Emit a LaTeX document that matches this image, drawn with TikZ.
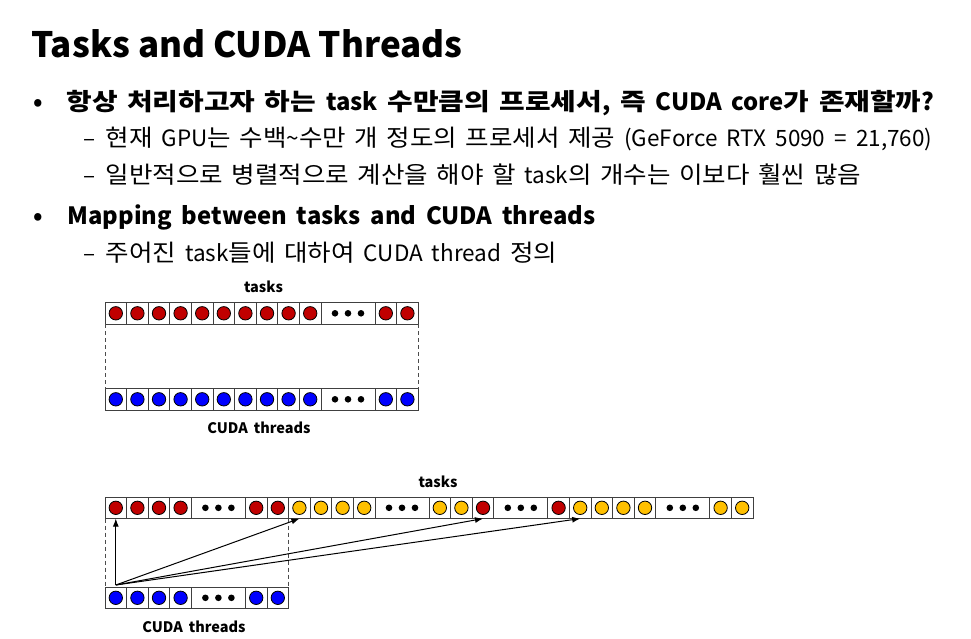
\documentclass[tikz,border=0pt]{standalone}
\usepackage{fontspec}
\setmainfont{Noto Sans CJK KR}[WordSpace=1.8]
\newfontfamily\plainfont{Noto Sans CJK KR}
\newfontfamily\hanA{Noto Sans CJK KR}[FakeStretch=1.17,WordSpace=1.5]
\newfontfamily\hanB{Noto Sans CJK KR}[Scale=1.044,FakeStretch=1.087,WordSpace=1.5]
\usetikzlibrary{arrows.meta}
\definecolor{taskred}{RGB}{192,0,0}
\definecolor{taskyellow}{RGB}{255,192,0}
\definecolor{threadblue}{RGB}{0,0,255}
\begin{document}
\begin{tikzpicture}[x=1pt,y=-1pt,
    cell/.style={draw=black!75,line width=1pt,minimum width=21.6pt,minimum height=21.6pt,
      inner sep=0pt,outer sep=0pt,anchor=north west},
    gapcell/.style={cell,minimum width=54pt},
    ball/.style={circle,draw=black,line width=0.8pt,minimum size=13.4pt,inner sep=0pt},
    dot/.style={circle,fill=black,minimum size=6.6pt,inner sep=0pt},
    rowlabel/.style={font=\bfseries\fontsize{14.5}{16}\selectfont},
    item/.style={anchor=base west,font=\bfseries\fontsize{23.8}{26}\selectfont},
    subitem/.style={anchor=base west,font=\fontsize{22.5}{24}\selectfont},
    link/.style={-{Latex[length=8pt,width=6pt]},line width=1pt},
    guide/.style={draw=black!70,line width=1pt,dash pattern=on 4pt off 3pt}]
    \path[use as bounding box] (0,0) rectangle (971,639);
    % Title
    \node[anchor=base west,font=\plainfont\bfseries\fontsize{35}{40}\selectfont] (title) at (27.5,57.5)
        {Tasks and CUDA Threads};

    % Bullets
    \node[item] (dotA) at (30,111) {•};
    \node[item] (lineA) at (63,111)
        {{\hanA 항상 처리하고자 하는} task {\hanA 수만큼의 프로세서}, {\hanA 즉} CUDA core{\hanA 가 존재할까}?};
    \node[subitem] (dashA) at (80,147) {–};
    \node[subitem] (lineB) at (102,147)
        {{\hanB 현재} GPU{\hanB 는 수백}\textasciitilde{\hanB 수만 개 정도의 프로세서 제공} (GeForce RTX 5090 = 21,760)};
    \node[subitem] (dashB) at (80,184) {–};
    \node[subitem] (lineC) at (102,184)
        {{\hanB 일반적으로 병렬적으로 계산을 해야 할} task{\hanB 의 개수는 이보다 훨씬 많음}};
    \node[item] (dotB) at (30,224) {•};
    \node[item] (lineD) at (64,224) {Mapping between tasks and CUDA threads};
    \node[subitem] (dashC) at (80,261) {–};
    \node[subitem] (lineE) at (102,261)
        {{\hanB 주어진} task{\hanB 들에 대하여} CUDA thread {\hanB 정의}};

    % One task per thread
    \node[rowlabel] (tasksA) at (263.5,287) {tasks};
    \foreach \o [count=\k] in {0,...,9,12.5,13.5} {
      \node[cell] (ta\k) at ({105+\o*21.6},302.5) {};
      \node[ball,fill=taskred] (ta\k-b) at (ta\k.center) {};
    }
    \node[gapcell] (tag) at ({105+10*21.6},302.5) {};
    \foreach \o [count=\j] in {0,...,9,12.5,13.5} {
      \node[cell] (ha\j) at ({105+\o*21.6},388.5) {};
      \node[ball,fill=threadblue] (ha\j-b) at (ha\j.center) {};
    }
    \node[gapcell] (hag) at ({105+10*21.6},388.5) {};
    \foreach \g in {tag,hag}
      \foreach \d [count=\j] in {-13,0,13}
        \node[dot] (\g-\j) at ([xshift=\d pt]\g.center) {};
    \draw[guide] (ta1.south west) -- (ha1.north west);
    \draw[guide] (ta12.south east) -- (ha12.north east);
    \node[rowlabel] (threadsA) at (259,428) {CUDA threads};

    % Many tasks per thread
    \node[rowlabel] (tasksB) at (438,482) {tasks};
    \foreach \o/\c [count=\k] in {0/taskred,1/taskred,2/taskred,3/taskred,6.5/taskred,7.5/taskred,
        8.5/taskyellow,9.5/taskyellow,10.5/taskyellow,11.5/taskyellow,15/taskyellow,16/taskyellow,
        17/taskred,20.5/taskred,21.5/taskyellow,22.5/taskyellow,23.5/taskyellow,24.5/taskyellow,
        28/taskyellow,29/taskyellow} {
      \node[cell] (tb\k) at ({105+\o*21.6},497) {};
      \node[ball,fill=\c] (tb\k-b) at (tb\k.center) {};
    }
    \foreach \o [count=\k] in {4,12.5,18,25.5}
      \node[gapcell] (tbg\k) at ({105+\o*21.6},497) {};
    \foreach \o [count=\j] in {0,1,2,3,6.5,7.5} {
      \node[cell] (hb\j) at ({105+\o*21.6},587) {};
      \node[ball,fill=threadblue] (hb\j-b) at (hb\j.center) {};
    }
    \node[gapcell] (hbg) at ({105+4*21.6},587) {};
    \foreach \g in {tbg1,tbg2,tbg3,tbg4,hbg}
      \foreach \d [count=\j] in {-13,0,13}
        \node[dot] (\g-\j) at ([xshift=\d pt]\g.center) {};
    \draw[guide] (tb1.south west) -- (hb1.north west);
    \draw[guide] (tb6.south east) -- (hb6.north east);
    \foreach \t in {1,7,13,15}
      \draw[link] ([yshift=2pt]hb1.north) -- (tb\t.south);
    \node[rowlabel] (threadsB) at (194,627) {CUDA threads};
  \end{tikzpicture}
\end{document}
